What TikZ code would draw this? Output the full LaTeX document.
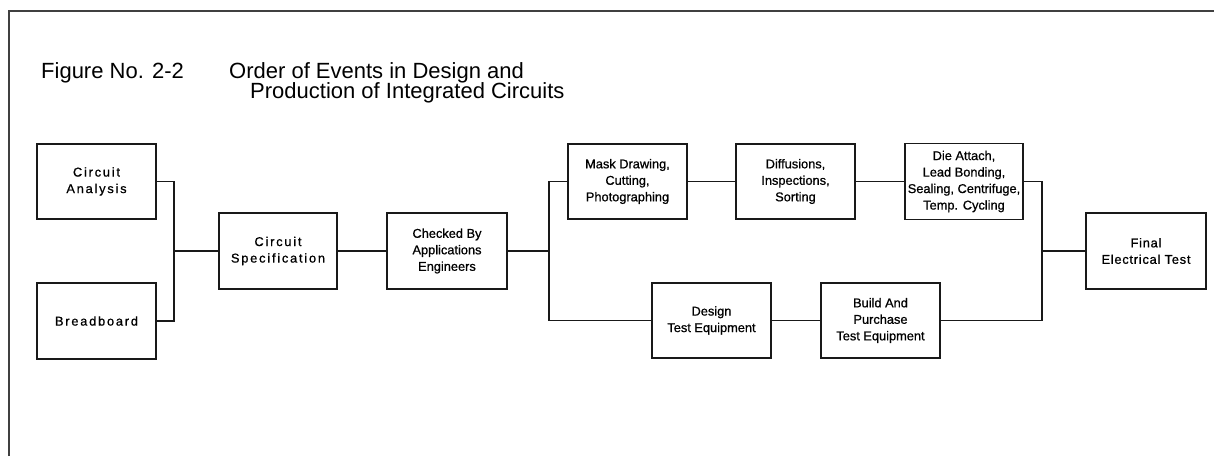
\documentclass[tikz,border=0pt]{standalone}
\usepackage{fontspec}
\setmainfont{Liberation Sans}
\newfontfamily\boxfont[FakeBold=0.8]{Liberation Sans}
\newfontfamily\spacedfont[LetterSpace=14,FakeBold=0.8]{Liberation Sans}
\newfontfamily\lightspaced[LetterSpace=6,FakeBold=0.8]{Liberation Sans}
\begin{document}
\begin{tikzpicture}[x=1pt,y=-1pt,
  proc/.style={draw=black!90, line width=1.7pt, rectangle, minimum width=119pt,
    minimum height=75pt, inner sep=0pt, align=center,
    font=\boxfont\fontsize{12.8}{16.5}\selectfont},
  spaced/.style={font=\spacedfont\fontsize{12.8}{16.5}\selectfont},
  lspaced/.style={font=\lightspaced\fontsize{12.8}{16.5}\selectfont},
  link/.style={draw=black!90, line width=1.3pt},
  titletext/.style={anchor=base west, inner sep=0pt, font=\fontsize{22}{26}\selectfont}]
\useasboundingbox (0,0) rectangle (1214,456);
% frame
\coordinate (fbl) at (9,456);
\coordinate (ftl) at (9,11);
\coordinate (ftr) at (1214,11);
\draw[black!75, line width=1.4pt] (fbl) -- (ftl) -- (ftr);
% title
\node[titletext] (t1) at (41,78) {Figure No. 2-2};
\node[titletext] (t2) at (229,78) {Order of Events in Design and};
\node[titletext] (t3) at (250,98) {Production of Integrated Circuits};
% boxes
\node[proc,spaced] (CA) at (96.5,181.5) {Circuit\\Analysis};
\node[proc,spaced,minimum height=76pt] (BB) at (96.5,321) {Breadboard};
\node[proc,spaced,minimum height=76pt,minimum width=118pt] (CS) at (278,251) {Circuit\\Specification};
\node[proc,minimum height=76pt,minimum width=120pt] (CB) at (447,251) {Checked By\\Applications\\Engineers};
\node[proc] (MD) at (627.5,181.5) {Mask Drawing,\\Cutting,\\Photographing};
\node[proc] (DF) at (795.5,181.5) {Diffusions,\\Inspections,\\Sorting};
\node[proc,minimum width=118pt,minimum height=76pt] (DA) at (964,181.5) {Die Attach,\\Lead Bonding,\\Sealing, Centrifuge,\\Temp. Cycling};
\node[proc,lspaced,minimum width=120pt,minimum height=76pt] (FT) at (1146,251) {Final\\Electrical Test};
\node[proc] (DT) at (711.5,320.5) {Design\\Test Equipment};
\node[proc] (BP) at (880.5,320.5) {Build And\\Purchase\\Test Equipment};
% junctions
\coordinate (jl) at (174,251);
\coordinate (jm) at (549,251);
\coordinate (jr) at (1042,251);
% connectors
\draw[link] (CA.east) -| (jl) |- (BB.east);
\draw[link] (jl) -- (CS.west);
\draw[link] (CS.east) -- (CB.west);
\draw[link] (CB.east) -- (jm);
\draw[link] (MD.west) -| (jm) |- (DT.west);
\draw[link] (MD.east) -- (DF.west);
\draw[link] (DF.east) -- (DA.west);
\draw[link] (DT.east) -- (BP.west);
\draw[link] (DA.east) -| (jr) |- (BP.east);
\draw[link] (jr) -- (FT.west);
\end{tikzpicture}
\end{document}
